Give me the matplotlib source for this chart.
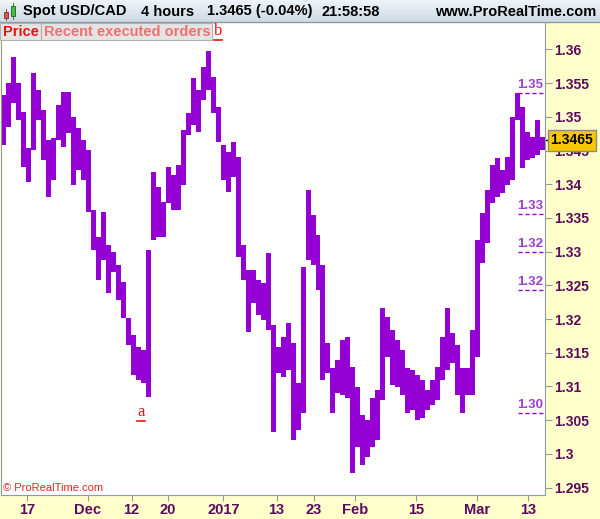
import numpy as np
import matplotlib
matplotlib.use("Agg")
import matplotlib.pyplot as plt
from matplotlib.patches import Rectangle

plt.rcParams['font.family'] = ['Liberation Sans', 'DejaVu Sans']

# USD/CAD 4h, high / low per ~20h block
high = [1.3532, 1.3550, 1.3589, 1.3550, 1.3507, 1.3454, 1.3565, 1.3540, 1.3510, 1.3466,
        1.3469, 1.3518, 1.3537, 1.3537, 1.3500, 1.3484, 1.3466, 1.3451, 1.3362, 1.3322,
        1.3359, 1.3310, 1.3300, 1.3280, 1.3255, 1.3202, 1.3176, 1.3159, 1.3154, 1.3303,
        1.3418, 1.3396, 1.3374, 1.3426, 1.3414, 1.3429, 1.3481, 1.3506, 1.3558, 1.3540,
        1.3574, 1.3598, 1.3559, 1.3515, 1.3458, 1.3448, 1.3463, 1.3440, 1.3310, 1.3273,
        1.3273, 1.3258, 1.3254, 1.3298, 1.3191, 1.3159, 1.3173, 1.3194, 1.3165, 1.3105,
        1.3277, 1.3392, 1.3354, 1.3325, 1.3280, 1.3165, 1.3127, 1.3139, 1.3169, 1.3173,
        1.3129, 1.3099, 1.3058, 1.3050, 1.3083, 1.3095, 1.3216, 1.3203, 1.3184, 1.3169,
        1.3154, 1.3127, 1.3124, 1.3117, 1.3110, 1.3095, 1.3110, 1.3129, 1.3173, 1.3216,
        1.3179, 1.3162, 1.3127, 1.3127, 1.3184, 1.3317, 1.3357, 1.3392, 1.3429, 1.3439,
        1.3421, 1.3440, 1.3500, 1.3535, 1.3515, 1.3478, 1.3470, 1.3495, 1.3470]
low = [1.3458, 1.3485, 1.3521, 1.3495, 1.3426, 1.3403, 1.3451, 1.3495, 1.3436, 1.3381,
       1.3406, 1.3466, 1.3455, 1.3476, 1.3399, 1.3421, 1.3406, 1.3359, 1.3303, 1.3258,
       1.3288, 1.3239, 1.3270, 1.3228, 1.3202, 1.3162, 1.3117, 1.3110, 1.3105, 1.3084,
       1.3317, 1.3322, 1.3322, 1.3372, 1.3362, 1.3362, 1.3399, 1.3473, 1.3488, 1.3478,
       1.3525, 1.3540, 1.3506, 1.3463, 1.3406, 1.3389, 1.3411, 1.3292, 1.3258, 1.3181,
       1.3224, 1.3206, 1.3199, 1.3184, 1.3032, 1.3120, 1.3114, 1.3124, 1.3021, 1.3035,
       1.3061, 1.3288, 1.3280, 1.3243, 1.3110, 1.3120, 1.3061, 1.3090, 1.3087, 1.3083,
       1.2972, 1.3010, 1.2984, 1.2995, 1.3010, 1.3021, 1.3080, 1.3144, 1.3102, 1.3099,
       1.3087, 1.3061, 1.3065, 1.3050, 1.3053, 1.3065, 1.3073, 1.3080, 1.3110, 1.3124,
       1.3135, 1.3087, 1.3061, 1.3087, 1.3087, 1.3144, 1.3283, 1.3313, 1.3372, 1.3381,
       1.3387, 1.3399, 1.3406, 1.3495, 1.3424, 1.3436, 1.3439, 1.3443, 1.3451]

date_labels = ['17', 'Dec', '12', '20', '2017', '13', '23', 'Feb', '15', 'Mar', '13']
date_pos = [5.14, 17.34, 26.14, 33.34, 44.54, 55.2, 62.6, 71.0, 83.2, 95.4, 105.54]

order_levels = [1.3535, 1.3356, 1.3300, 1.3243, 1.3061]
order_labels = ['1.35', '1.33', '1.32', '1.32', '1.30']

last_price = 1.3465

purple = '#9400d3'
axis_txt = '#5c0a5c'
border = '#8e9ba6'

W, H = 600, 519
fig = plt.figure(figsize=(W / 100, H / 100), dpi=100)
fig.patch.set_facecolor('#ffffcc')

ax = fig.add_axes([0.002, 24 / H, 545 / W - 0.002, (495 - 22) / H])
ax.set_facecolor('white')

x = np.arange(len(high)) + 0.5
hi = np.array(high)
lo = np.array(low)
ax.bar(x, hi - lo, bottom=lo, width=1.0, color=purple, linewidth=0)

ax.set_xlim(0, len(high))
ax.set_ylim(1.29389, 1.36408)

ax.yaxis.tick_right()
yt = np.arange(1.295, 1.3601, 0.005)
ax.set_yticks(yt)
ax.set_yticklabels([('%.3f' % v).rstrip('0') for v in yt])
ax.set_xticks(date_pos)
ax.set_xticklabels(date_labels)
ax.tick_params(axis='y', direction='out', length=5, color=border, pad=1.5,
               labelcolor=axis_txt, labelsize=10)
ax.tick_params(axis='x', direction='out', length=4, color=border, pad=2,
               labelcolor=axis_txt, labelsize=10.5)
for lab in ax.get_xticklabels() + ax.get_yticklabels():
    lab.set_fontweight('bold')
for s in ['left', 'bottom', 'right']:
    ax.spines[s].set_color(border)
ax.spines['top'].set_visible(False)

# recent executed orders
for lev, lab in zip(order_levels, order_labels):
    ax.axhline(lev, xmin=0.95, xmax=1.0, color=purple, lw=1, ls=(0, (3, 2)))
    ax.annotate(lab, xy=(1.0, lev), xycoords=('axes fraction', 'data'),
                xytext=(-1, 1.5), textcoords='offset points', ha='right', va='bottom',
                color='#9a3fd0', fontsize=9.5, fontweight='bold')

# last price marker
tr = ax.get_yaxis_transform()
ax.plot([1.0, 1.012], [last_price, last_price], color='black', lw=1,
        transform=tr, clip_on=False)
ax.annotate('%.4f' % last_price, xy=(1.0, last_price), xycoords=('axes fraction', 'data'),
            xytext=(4, 0), textcoords='offset points', ha='left', va='center',
            fontsize=10, fontweight='bold', color='black', zorder=10,
            annotation_clip=False,
            bbox=dict(boxstyle='square,pad=0.22', fc='#f7c800', ec='#8a8a8a', lw=1))

# header and overlay labels in pixel coordinates
ov = fig.add_axes([0, 0, 1, 1], zorder=5)
ov.axis('off')
ov.patch.set_alpha(0)

grad = np.linspace(0, 1, 22).reshape(-1, 1)
ov.imshow(grad, extent=(0, W, 22, 0), aspect='auto', cmap=matplotlib.colors.LinearSegmentedColormap.from_list(
    'hdr', ['#eef3f7', '#cfdae4']), zorder=1)
ov.plot([0, W], [22, 22], color=border, lw=1, zorder=2)
ov.set_xlim(0, W)
ov.set_ylim(H, 0)

# candle icon
ov.add_patch(Rectangle((4, 12), 4, 6, fc='#e05050', ec='#803030', lw=0.6, zorder=3))
ov.plot([6, 6], [9, 20], color='#803030', lw=0.6, zorder=2)
ov.add_patch(Rectangle((11, 6), 4, 10, fc='#40c040', ec='#206020', lw=0.6, zorder=3))
ov.plot([13, 13], [3, 19], color='#206020', lw=0.6, zorder=2)

hdr_kw = dict(fontsize=10.5, fontweight='bold', color='black', va='center', zorder=4)
ov.text(23, 11.5, 'Spot USD/CAD', **hdr_kw)
ov.text(141, 11.5, '4 hours', **hdr_kw)
ov.text(207, 11.5, '1.3465 (-0.04%)', **hdr_kw)
ov.text(322, 11.5, '21:58:58', **hdr_kw)
ov.text(596, 11.5, 'www.ProRealTime.com', ha='right', **hdr_kw)

# legend boxes
ov.add_patch(Rectangle((0, 23), 41, 17, fc='#e4e4e4', ec='#b0b0b0', lw=0.8, zorder=3))
ov.add_patch(Rectangle((41, 23), 171, 17, fc='#e4e4e4', ec='#b0b0b0', lw=0.8, zorder=3))
ov.text(3, 31.5, 'Price', fontsize=10.5, fontweight='bold', color='#ee1111', va='center', zorder=4)
ov.text(44, 31.5, 'Recent executed orders', fontsize=10.5, fontweight='bold',
        color='#f07070', va='center', zorder=4)

for lx, ly, s in [(218, 31, 'b'), (141, 412, 'a')]:
    ov.text(lx, ly, s, family='Liberation Serif', fontsize=12, color='#ee1111',
            ha='center', va='center', zorder=4)
    ov.plot([lx - 4, lx + 4], [ly + 9, ly + 9], color='#ee1111', lw=1.2, zorder=4)

ov.text(3, 488, '\u00a9 ProRealTime.com', fontsize=8, color='#ee2222', va='center', zorder=4)

fig.savefig('out.png', dpi=100, facecolor=fig.get_facecolor())
